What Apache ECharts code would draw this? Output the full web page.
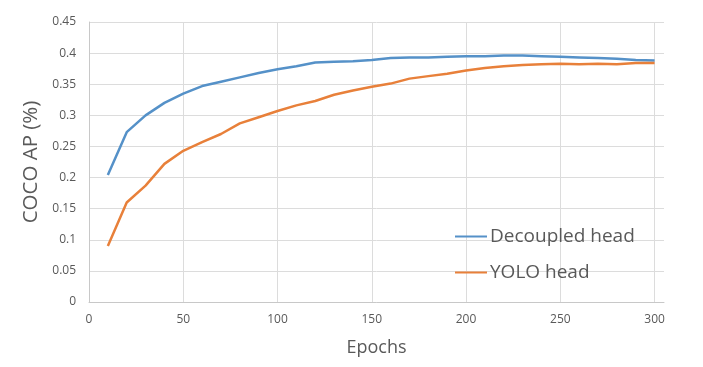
<!DOCTYPE html>
<html>
<head>
<meta charset="utf-8">
<script src="https://cdn.jsdelivr.net/npm/echarts@6/dist/echarts.min.js"></script>
<style>html,body{margin:0;padding:0;background:#fff}#c{width:703px;height:367px}</style>
</head>
<body>
<div id="c"></div>
<script>
var epochs = [10,20,30,40,50,60,70,80,90,100,110,120,130,140,150,160,170,180,190,200,210,220,230,240,250,260,270,280,290,300];
var decoupled = [0.204,0.273,0.300,0.320,0.335,0.347,0.354,0.361,0.368,0.374,0.379,0.385,0.386,0.387,0.389,0.392,0.393,0.393,0.394,0.395,0.395,0.396,0.396,0.395,0.394,0.393,0.392,0.391,0.389,0.388];
var yolo = [0.090,0.160,0.187,0.222,0.243,0.257,0.270,0.287,0.297,0.307,0.316,0.323,0.333,0.340,0.346,0.351,0.359,0.363,0.367,0.372,0.376,0.379,0.381,0.382,0.383,0.382,0.383,0.382,0.384,0.384];
var seriesNames = ['Decoupled head','YOLO head'];

function pairs(xs, ys){ return xs.map(function(x,i){return [x, ys[i]];}); }

var font = 'Open Sans';
var txt = '#595959';
var chart = echarts.init(document.getElementById('c'), null, {renderer:'canvas'});
chart.setOption({
  animation:false,
  textStyle:{fontFamily:font},
  grid:{left:89, right:39, top:22, bottom:65},
  legend:{
    orient:'vertical', left:450, top:221,
    itemWidth:32, itemHeight:2, itemGap:15,
    icon:'rect',
    textStyle:{fontFamily:font, fontSize:19, color:txt, lineHeight:21, padding:[0,0,0,-2]},
    data:seriesNames
  },
  xAxis:{
    type:'value', min:0, max:305, interval:50,
    name:'Epochs', nameLocation:'middle', nameGap:37,
    nameTextStyle:{fontFamily:font, fontSize:18, color:txt},
    axisLine:{show:true, lineStyle:{color:'#c8c8c8', width:1}},
    axisTick:{show:false},
    axisLabel:{fontFamily:font, fontSize:12, color:txt, margin:12, showMaxLabel:false},
    splitLine:{show:true, showMaxLine:false, lineStyle:{color:'#dcdcdc', width:1}}
  },
  yAxis:{
    type:'value', min:0, max:0.45, interval:0.05,
    name:'COCO AP (%)', nameLocation:'middle', nameGap:45,
    nameTextStyle:{fontFamily:font, fontSize:20.5, color:txt},
    axisLine:{show:true, lineStyle:{color:'#c8c8c8', width:1}},
    axisTick:{show:false},
    axisLabel:{fontFamily:font, fontSize:12, color:txt, margin:13,
      formatter:function(v){ return String(+v.toFixed(2)); }},
    splitLine:{show:true, lineStyle:{color:'#dcdcdc', width:1}}
  },
  series:[
    {name:seriesNames[0], type:'line', data:pairs(epochs, decoupled), symbol:'none',
     lineStyle:{color:'#5591c8', width:2.5}, itemStyle:{color:'#5591c8'}},
    {name:seriesNames[1], type:'line', data:pairs(epochs, yolo), symbol:'none',
     lineStyle:{color:'#e8803a', width:2.5}, itemStyle:{color:'#e8803a'}}
  ]
});
</script>
</body>
</html>
